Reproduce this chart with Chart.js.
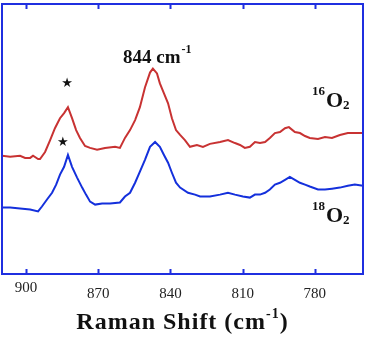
<!DOCTYPE html>
<html>
<head>
<meta charset="utf-8">
<script src="https://cdn.jsdelivr.net/npm/chart.js@4"></script>
<style>
  html, body { margin: 0; padding: 0; background: #fff; }
  canvas { display: block; }
</style>
</head>
<body>
<canvas id="ramanChart" width="376" height="340"></canvas>
<script>
// Raman shift (cm-1) and intensity (arb. units)
const shift16 = [910, 906.6, 902.5, 900.4, 898.3, 897.1, 895.0, 894.2, 892.1, 890.0, 888.0, 885.9, 884.2, 882.6, 880.9, 879.2, 877.6, 875.5, 873.4, 870.5, 867.2, 863.0, 861.0, 858.9, 856.8, 854.7, 852.7, 850.6, 848.5, 847.3, 845.6, 844.4, 842.7, 841.0, 839.4, 837.7, 836.0, 834.0, 831.9, 829.0, 826.5, 823.6, 819.4, 816.1, 813.2, 811.1, 809.1, 807.0, 804.9, 802.8, 800.7, 798.7, 796.6, 794.5, 792.4, 790.8, 788.3, 786.2, 784.1, 782.1, 778.7, 775.8, 772.9, 769.6, 766.3, 763.4, 760.0];
const int16 = [43.8, 43.4, 43.8, 43.0, 43.0, 43.8, 42.6, 42.6, 45.2, 49.6, 54.0, 57.7, 59.6, 61.8, 57.7, 53.3, 50.4, 47.4, 46.7, 46.0, 46.7, 47.1, 46.7, 50.4, 53.3, 57.0, 61.8, 69.1, 74.6, 76.1, 74.3, 70.6, 66.9, 63.2, 57.7, 53.3, 51.5, 49.6, 47.1, 47.8, 47.1, 48.2, 48.9, 49.6, 48.5, 47.8, 46.7, 47.1, 48.9, 48.5, 48.9, 50.4, 52.2, 52.6, 54.0, 54.4, 52.6, 52.2, 51.1, 50.4, 50.0, 50.7, 50.4, 51.5, 52.2, 52.2, 52.2];

const shift18 = [910, 906.6, 902.5, 898.3, 895.0, 893.4, 891.3, 889.2, 887.5, 885.9, 884.2, 882.6, 880.9, 878.8, 876.7, 875.1, 873.4, 871.3, 868.4, 865.1, 861.0, 858.9, 856.8, 854.7, 852.7, 850.6, 848.5, 846.4, 844.4, 842.7, 841.0, 839.4, 837.7, 836.0, 832.7, 829.8, 827.7, 823.6, 819.4, 816.1, 813.2, 809.9, 807.0, 804.9, 802.8, 800.7, 798.7, 796.6, 794.5, 792.4, 790.4, 788.3, 786.2, 784.1, 782.1, 778.7, 775.8, 772.9, 769.6, 766.3, 763.4, 760.0];
const int18 = [24.6, 24.6, 24.3, 23.9, 23.2, 25.0, 27.6, 30.1, 33.1, 36.8, 39.7, 44.1, 39.7, 35.7, 32.0, 29.4, 26.8, 25.7, 26.1, 26.1, 26.5, 28.7, 30.1, 33.8, 37.9, 42.3, 47.1, 48.9, 47.1, 44.1, 41.2, 37.5, 33.8, 32.0, 30.1, 29.4, 28.7, 28.7, 29.4, 30.1, 29.4, 28.7, 28.3, 29.4, 29.4, 30.1, 31.3, 33.1, 33.8, 34.9, 36.0, 34.9, 33.8, 33.1, 32.4, 31.3, 31.3, 31.6, 32.0, 32.7, 33.1, 32.7];

const xTicks = [900, 870, 840, 810, 780];
const starMarks = [[883, 70.4], [884.7, 48.5]];   // [shift, intensity] of the * labels
const peakLabel = "844 cm";

function toPoints(xs, ys) {
    return xs.map((x, i) => ({ x: x, y: ys[i] }));
}

const frameColor = '#1f2fe0';
const serif = '"Liberation Serif", "Times New Roman", serif';

// frame, inward ticks, labels and annotations
const decorations = {
    id: 'decorations',
    afterDatasetsDraw(chart) {
        const ctx = chart.ctx;
        const a = chart.chartArea;
        const xs = chart.scales.x;
        const ys = chart.scales.y;
        ctx.save();

        ctx.strokeStyle = frameColor;
        ctx.lineWidth = 2;
        ctx.strokeRect(a.left, a.top, a.right - a.left, a.bottom - a.top);
        ctx.beginPath();
        xTicks.forEach(t => {
            const px = Math.round(xs.getPixelForValue(t)) + 0.5;
            ctx.moveTo(px, a.top); ctx.lineTo(px, a.top + 5);
            ctx.moveTo(px, a.bottom); ctx.lineTo(px, a.bottom - 5);
        });
        ctx.stroke();

        // tick labels (first one sits a little higher in the original)
        ctx.fillStyle = '#222';
        ctx.font = '15px ' + serif;
        ctx.textAlign = 'center';
        ctx.textBaseline = 'alphabetic';
        xTicks.forEach((t, i) => {
            ctx.fillText(String(t), xs.getPixelForValue(t), i === 0 ? 292 : 298);
        });

        // axis title with superscript
        ctx.fillStyle = '#111';
        ctx.textAlign = 'left';
        const mainFont = 'bold 24px ' + serif;
        const supFont = 'bold 14px ' + serif;
        ctx.letterSpacing = '1px';
        ctx.font = mainFont;
        const part1 = 'Raman Shift (cm';
        const w1 = ctx.measureText(part1).width;
        const w3 = ctx.measureText(')').width;
        ctx.font = supFont;
        const w2 = ctx.measureText('-1').width;
        let tx = (a.left + a.right) / 2 - (w1 + w2 + w3) / 2;
        ctx.font = mainFont;
        ctx.fillText(part1, tx, 329);
        tx += w1;
        ctx.font = supFont;
        ctx.fillText('-1', tx, 318);
        tx += w2;
        ctx.font = mainFont;
        ctx.fillText(')', tx, 329);
        ctx.letterSpacing = '0px';

        // peak annotation
        ctx.font = 'bold 19px ' + serif;
        const pw = ctx.measureText(peakLabel).width;
        ctx.fillText(peakLabel, 123, 63);
        ctx.font = 'bold 12px ' + serif;
        ctx.fillText('-1', 123 + pw + 1, 53);

        // stars
        ctx.font = '13px "DejaVu Sans"';
        ctx.textAlign = 'center';
        ctx.textBaseline = 'middle';
        starMarks.forEach(s => {
            ctx.fillText('\u2605', xs.getPixelForValue(s[0]), ys.getPixelForValue(s[1]));
        });

        // isotope labels
        ctx.textBaseline = 'alphabetic';
        ctx.textAlign = 'left';
        function isotope(mass, x, base) {
            ctx.font = 'bold 13px ' + serif;
            ctx.fillText(mass, x, base - 12);
            const mw = ctx.measureText(mass).width;
            ctx.font = 'bold 22px ' + serif;
            ctx.fillText('O', x + mw + 1, base);
            const ow = ctx.measureText('O').width;
            ctx.font = 'bold 13px ' + serif;
            ctx.fillText('2', x + mw + ow + 1, base + 2);
        }
        isotope('16', 312, 107);
        isotope('18', 312, 222);

        ctx.restore();
    }
};

const ctx = document.getElementById('ramanChart').getContext('2d');
new Chart(ctx, {
    type: 'line',
    data: {
        datasets: [{
            label: '16O2',
            data: toPoints(shift16, int16),
            borderColor: '#c83232',
            borderWidth: 2,
            pointRadius: 0,
            tension: 0,
            fill: false
        }, {
            label: '18O2',
            data: toPoints(shift18, int18),
            borderColor: '#1430dc',
            borderWidth: 2,
            pointRadius: 0,
            tension: 0,
            fill: false
        }]
    },
    options: {
        responsive: false,
        animation: false,
        layout: { padding: { left: 2, top: 4, right: 13, bottom: 66 } },
        plugins: { legend: { display: false }, tooltip: { enabled: false } },
        scales: {
            x: { type: 'linear', min: 760, max: 910, reverse: true, display: false },
            y: { min: 0, max: 100, display: false }
        }
    },
    plugins: [decorations]
});
</script>
</body>
</html>
